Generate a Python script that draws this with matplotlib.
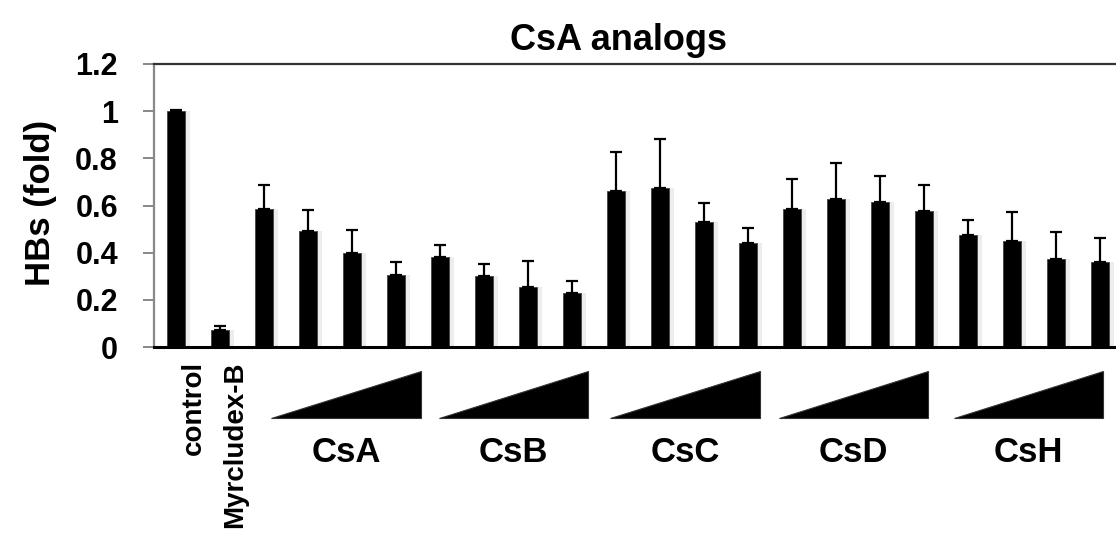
import numpy as np
import matplotlib.pyplot as plt
from matplotlib.patches import Polygon
import matplotlib.transforms as mtransforms

plt.rcParams['font.family'] = ['Liberation Sans', 'DejaVu Sans']
plt.rcParams['font.weight'] = 'bold'

# values
single_labels = ['control', 'Myrcludex-B']
single_values = [1.00, 0.07]
single_errors = [0.005, 0.02]

groups = ['CsA', 'CsB', 'CsC', 'CsD', 'CsH']
group_values = [
    [0.585, 0.492, 0.398, 0.307],
    [0.382, 0.301, 0.256, 0.228],
    [0.662, 0.676, 0.532, 0.440],
    [0.587, 0.626, 0.616, 0.577],
    [0.476, 0.451, 0.375, 0.359],
]
group_errors = [
    [0.100, 0.090, 0.100, 0.052],
    [0.052, 0.050, 0.110, 0.053],
    [0.166, 0.206, 0.080, 0.066],
    [0.124, 0.153, 0.108, 0.109],
    [0.061, 0.122, 0.113, 0.103],
]

values = single_values + [v for g in group_values for v in g]
errors = single_errors + [e for g in group_errors for e in g]
x = np.arange(len(values))

fig = plt.figure(figsize=(11.16, 5.36), dpi=100)
ax = fig.add_axes([0.138, 0.3526, 0.8674, 0.528])

# soft shadow behind each bar
ax.bar(x + 0.07, values, width=0.5, color='#ededed', zorder=1)
ax.bar(x, values, width=0.41, color='black', edgecolor='#444444', linewidth=0.6, zorder=2)
ax.errorbar(x, values, yerr=[np.zeros(len(errors)), errors], fmt='none',
            ecolor='black', elinewidth=1.6, capsize=4.5, capthick=1.6, zorder=3)

ax.set_xlim(-0.5, len(values) - 0.5)
ax.set_ylim(0, 1.2)
ax.set_yticks([0, 0.2, 0.4, 0.6, 0.8, 1.0, 1.2])
ax.set_yticklabels(['0', '0.2', '0.4', '0.6', '0.8', '1', '1.2'])
ax.tick_params(axis='y', length=8, width=1.4, color='#888888', pad=18, labelsize=22)
ax.set_xticks([])

ax.spines['left'].set_color('#888888')
ax.spines['left'].set_linewidth(1.6)
ax.spines['top'].set_color('#333333')
ax.spines['top'].set_linewidth(1.6)
ax.spines['bottom'].set_color('black')
ax.spines['bottom'].set_linewidth(2.2)
ax.spines['right'].set_visible(False)

ax.set_ylabel('HBs (fold)', fontsize=25, fontweight='bold', labelpad=16)
ax.yaxis.set_label_coords(-0.1, 0.51)
ax.set_title('CsA analogs', fontsize=26, fontweight='bold', pad=10, x=0.48)

trans = mtransforms.blended_transform_factory(ax.transData, ax.transAxes)

# rotated labels for the two single bars
single_x = [0.4, 1.34]
for lx, lab in zip(single_x, single_labels):
    ax.text(lx, -0.05, lab, rotation=90, ha='center', va='top', fontsize=20,
            fontweight='bold', transform=trans, clip_on=False)

# dose triangles and group names
shift = [0.37, 0.17, 0.07, -0.1, -0.13]
for i, name in enumerate(groups):
    c = 2 + 4 * i + 1.5 + shift[i]
    tri = Polygon([[c - 1.7, -0.251], [c + 1.7, -0.251], [c + 1.7, -0.085]],
                  closed=True, facecolor='black', edgecolor='#333333',
                  linewidth=0.8, transform=trans, clip_on=False)
    ax.add_patch(tri)
    ax.text(c, -0.371, name, ha='center', va='center', fontsize=25,
            fontweight='bold', transform=trans, clip_on=False)

fig.savefig('out.png', dpi=100)
